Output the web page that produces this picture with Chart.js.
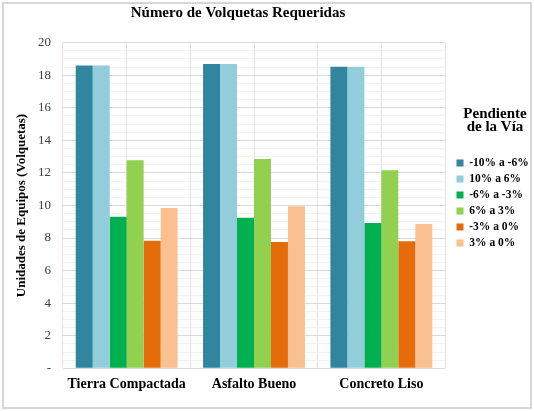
<!DOCTYPE html>
<html><head><meta charset="utf-8">
<script src="https://cdn.jsdelivr.net/npm/chart.js@4.4.0/dist/chart.umd.min.js"></script>
<style>
html,body{margin:0;padding:0;background:#fff;}
#wrap{position:relative;width:534px;height:411px;}
#frame{position:absolute;left:2px;top:2px;width:530px;height:407px;box-sizing:border-box;border:2px solid #d6d6d6;pointer-events:none;}
canvas{position:absolute;left:0;top:0;}
</style></head><body>
<div id="wrap"><canvas id="c" width="534" height="411"></canvas><div id="frame"></div></div>
<script>
const categories = ['Tierra Compactada', 'Asfalto Bueno', 'Concreto Liso'];
const seriesNames = ['-10% a -6%', '10% a 6%', '-6% a -3%', '6% a 3%', '-3% a 0%', '3% a 0%'];
const serieMenos10a6 = [18.60, 18.69, 18.53];
const serie10a6 = [18.60, 18.69, 18.53];
const serieMenos6a3 = [9.31, 9.25, 8.93];
const serie6a3 = [12.78, 12.86, 12.16];
const serieMenos3a0 = [7.84, 7.76, 7.80];
const serie3a0 = [9.85, 9.95, 8.86];
const seriesValues = [serieMenos10a6, serie10a6, serieMenos6a3, serie6a3, serieMenos3a0, serie3a0];
const chartTitle = 'Número de Volquetas Requeridas';
const yTitle = 'Unidades de Equipos (Volquetas)';
const legendTitle = ['Pendiente', 'de la Vía'];

const colors = ['#31859C', '#92CDDC', '#00B050', '#92D050', '#E46C0A', '#FAC090'];
const SERIF = "'Liberation Serif', 'Times New Roman', serif";
Chart.defaults.font.family = SERIF;

const titlesPlugin = {
  id: 'titles',
  afterDraw(chart) {
    const { ctx, chartArea, legend } = chart;
    ctx.save();
    ctx.fillStyle = '#000';
    ctx.textAlign = 'center';
    ctx.textBaseline = 'alphabetic';
    ctx.font = 'bold 15px ' + SERIF;
    ctx.fillText(chartTitle, (chartArea.left + chartArea.right) / 2 - 16, 17);
    const hb = legend.legendHitBoxes[0];
    const cx = legend.left + legend.width / 2 + 2;
    ctx.fillText(legendTitle[0], cx, hb.top - 39.5);
    ctx.fillText(legendTitle[1], cx, hb.top - 26.25);
    ctx.restore();
  }
};

new Chart(document.getElementById('c'), {
  type: 'bar',
  data: {
    labels: categories,
    datasets: seriesNames.map((n, i) => ({
      label: n,
      data: seriesValues[i],
      backgroundColor: colors[i],
      borderWidth: 0,
      barPercentage: 1,
      categoryPercentage: 0.8,
      xAxisID: 'x',
      yAxisID: 'y'
    }))
  },
  plugins: [titlesPlugin],
  options: {
    responsive: false,
    animation: false,
    layout: { padding: { top: 42.7, left: 12, right: 0, bottom: 9.9 } },
    plugins: {
      tooltip: { enabled: false },
      title: { display: false },
      legend: {
        position: 'right', align: 'start', maxWidth: 82,
        labels: {
          boxWidth: 7, boxHeight: 7, padding: 4.5, color: '#000',
          font: { family: SERIF, size: 11.5, weight: 'bold' }
        },
        title: {
          display: true, text: '', font: { size: 10, lineHeight: 1 },
          padding: { top: 100.05, bottom: 0 }
        }
      }
    },
    scales: {
      x: {
        offset: true,
        grid: { offset: false, drawTicks: false, color: '#ebe0e0' },
        border: { display: false },
        ticks: { padding: 8, color: '#000', font: { family: SERIF, size: 14, weight: 'bold' } }
      },
      x2: {
        type: 'category', labels: categories, position: 'bottom', offset: true,
        grid: { offset: true, drawTicks: false, color: '#ebe0e0' },
        border: { display: false },
        ticks: { display: false }
      },
      y: {
        min: 0, max: 20,
        afterFit: (scale) => { scale.width = 51; },
        ticks: {
          stepSize: 0.5, autoSkip: false, maxTicksLimit: 100, padding: 12, color: '#404040',
          font: { family: SERIF, size: 13 },
          callback: (v) => v === 0 ? '-' : (v % 2 === 0 ? String(v) : '')
        },
        grid: {
          drawTicks: false,
          color: (ctx) => (ctx.tick && ctx.tick.value % 2 === 0) ? '#dadada' : '#f1f1f1'
        },
        border: { display: false },
        title: {
          display: true, text: yTitle, color: '#000',
          font: { family: SERIF, size: 13, weight: 'bold' },
          padding: { top: 2, bottom: 4 }
        }
      },
      y2: {
        position: 'right', display: true,
        afterFit: (scale) => { scale.width = 7; },
        grid: { display: false, drawTicks: false },
        border: { display: false },
        ticks: { display: false }
      }
    }
  }
});
</script>
</body></html>
